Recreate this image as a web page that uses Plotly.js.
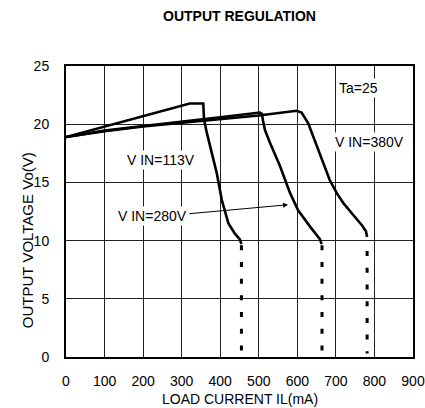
<!DOCTYPE html>
<html>
<head>
<meta charset="utf-8">
<script src="https://cdn.plot.ly/plotly-3.0.1.min.js"></script>
<style>html,body{margin:0;padding:0;background:#fff;}#chart{width:425px;height:408px;}</style>
</head>
<body>
<div id="chart"></div>
<script>
// Data (load current in mA, output voltage in V)
const vin113_I = [0, 100, 200, 296, 321, 356, 358, 365, 378, 391, 404, 421, 438, 451, 455];
const vin113_V = [18.9, 19.8, 20.7, 21.6, 21.78, 21.78, 20.4, 19.3, 17.5, 15.8, 13.5, 11.5, 10.6, 10.1, 9.7];

const vin280_I = [0, 100, 200, 300, 400, 503, 508, 511, 516, 529, 555, 581, 602, 633, 659, 663];
const vin280_V = [18.9, 19.45, 19.85, 20.2, 20.6, 21.0, 20.9, 20.3, 19.5, 18.4, 16.4, 14.1, 12.6, 11.2, 10.1, 9.7];

const vin380_I = [0, 100, 200, 300, 400, 500, 598, 611, 628, 637, 650, 667, 684, 702, 720, 745, 768, 778, 781];
const vin380_V = [18.9, 19.4, 19.8, 20.1, 20.4, 20.75, 21.15, 21.0, 20.1, 19.3, 18.1, 16.7, 15.2, 14.1, 13.2, 12.2, 11.3, 10.8, 10.3];

// Dotted continuation (current limit) lines
const limit_I = [455, 664, 781];
const limitTop_V = [9.6, 9.6, 9.1];
const limitBottom_V = [0.3, 0.3, 0.3];

const xTicks = [0, 100, 200, 300, 400, 500, 600, 700, 800, 900];
const yTicks = [0, 5, 10, 15, 20, 25];

const labelTexts = ['V IN=113V', 'V IN=280V', 'V IN=380V', 'Ta=25'];
const labelI = [246, 224, 786, 758];
const labelV = [16.9, 12.15, 18.47, 23.08];

const arrowTail = [316, 12.3];
const arrowHead = [576, 13.08];

const FONT = '"Liberation Sans", Arial, sans-serif';
const lineStyle = {color: '#000', width: 2.6};

const traces = [
  {x: vin113_I, y: vin113_V, mode: 'lines', line: lineStyle, hoverinfo: 'skip'},
  {x: vin280_I, y: vin280_V, mode: 'lines', line: lineStyle, hoverinfo: 'skip'},
  {x: vin380_I, y: vin380_V, mode: 'lines', line: lineStyle, hoverinfo: 'skip'}
];
limit_I.forEach((xi, i) => {
  traces.push({x: [xi, xi], y: [limitTop_V[i], limitBottom_V[i]], mode: 'lines',
    line: {color: '#000', width: 3, dash: '5px,11.7px'}, hoverinfo: 'skip'});
});

const annotations = labelTexts.map((t, i) => ({
  x: labelI[i], y: labelV[i], xref: 'x', yref: 'y', text: t, showarrow: false,
  font: {family: FONT, size: 14, color: '#000'}, bgcolor: '#fff', borderpad: 1,
  xanchor: 'center', yanchor: 'middle'
}));
annotations.push({
  x: arrowHead[0], y: arrowHead[1], ax: arrowTail[0], ay: arrowTail[1],
  xref: 'x', yref: 'y', axref: 'x', ayref: 'y', text: '', showarrow: true,
  arrowhead: 2, arrowsize: 1, arrowwidth: 1, arrowcolor: '#000'
});
annotations.push({
  x: -0.112, y: 0.402, xref: 'paper', yref: 'paper', text: 'OUTPUT VOLTAGE Vo(V)',
  textangle: -90, showarrow: false, xanchor: 'center', yanchor: 'middle',
  font: {family: FONT, size: 15, color: '#000'}
});
annotations.push({
  x: 0.5, y: -0.146, xref: 'paper', yref: 'paper', text: 'LOAD CURRENT IL(mA)',
  showarrow: false, xanchor: 'center', yanchor: 'middle',
  font: {family: FONT, size: 14, color: '#000'}
});

const layout = {
  width: 425, height: 408,
  margin: {l: 66, r: 12, t: 66, b: 51, pad: 0},
  paper_bgcolor: '#fff', plot_bgcolor: '#fff',
  showlegend: false,
  font: {family: FONT, size: 14, color: '#000'},
  title: {text: '<b>OUTPUT REGULATION</b>', font: {family: FONT, size: 14, color: '#000'},
    xref: 'paper', x: 0.5, xanchor: 'center', yref: 'container', y: 0.96, yanchor: 'middle'},
  xaxis: {range: [0, 900], tickvals: xTicks, ticktext: xTicks.map(String),
    showgrid: true, gridcolor: '#222', gridwidth: 1, zeroline: false,
    showline: true, linecolor: '#000', linewidth: 2, mirror: true,
    ticks: '', ticklabelstandoff: 10, tickfont: {family: FONT, size: 14, color: '#000'}},
  yaxis: {range: [0, 25], tickvals: yTicks, ticktext: yTicks.map(String),
    showgrid: true, gridcolor: '#222', gridwidth: 1, zeroline: false,
    showline: true, linecolor: '#000', linewidth: 2, mirror: true,
    ticks: '', ticklabelstandoff: 12, tickfont: {family: FONT, size: 14, color: '#000'}},
  annotations: annotations
};

Plotly.newPlot('chart', traces, layout, {staticPlot: true, displayModeBar: false});
</script>
</body>
</html>
